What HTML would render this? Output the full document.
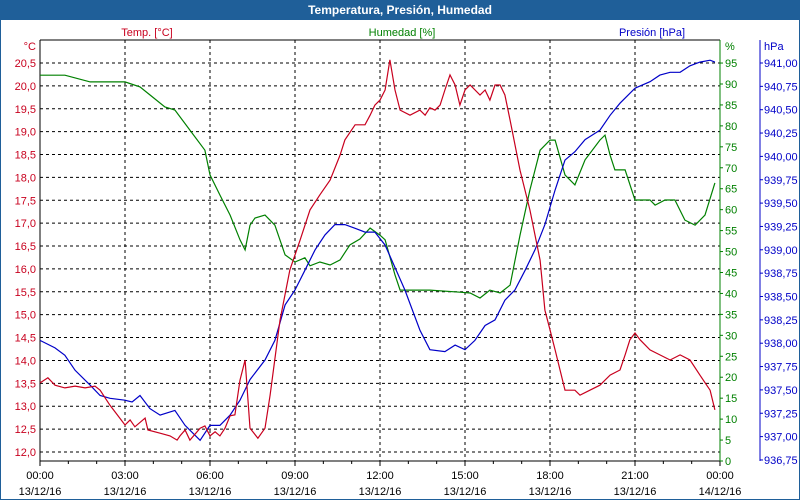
<!DOCTYPE html>
<html><head><meta charset="utf-8"><style>
html,body{margin:0;padding:0;background:#fff;}
#wrap{position:relative;width:800px;height:500px;overflow:hidden;font-family:"Liberation Sans","DejaVu Sans",sans-serif;}
svg text{font-family:"Liberation Sans","DejaVu Sans",sans-serif;font-size:11px;}
</style></head><body>
<div id="wrap">
<svg id="chart" width="800" height="500" xmlns="http://www.w3.org/2000/svg">
<rect x="0" y="0" width="800" height="500" fill="#fff" stroke="#1f5f99" stroke-width="2"/>
<rect x="0" y="0" width="800" height="20" fill="#1f5f99"/>
<text x="400" y="14" text-anchor="middle" fill="#fff" font-weight="bold" style="font-size:12px">Temperatura, Presión, Humedad</text>
<text x="147" y="36" text-anchor="middle" fill="#c8001e">Temp. [°C]</text>
<text x="402" y="36" text-anchor="middle" fill="#008000">Humedad [%]</text>
<text x="652" y="36" text-anchor="middle" fill="#0000c8">Presión [hPa]</text>
<text x="36" y="50" text-anchor="end" fill="#c8001e">°C</text>
<text x="725" y="50" fill="#008000">%</text>
<text x="764" y="50" fill="#0000c8">hPa</text>
<g id="grid"></g><g id="axes"></g><g id="series"></g>
</svg>
</div>
<script>
const xHourTicks=[0,3,6,9,12,15,18,21,24];
const xTimeLabels=["00:00","03:00","06:00","09:00","12:00","15:00","18:00","21:00","00:00"];
const xDateLabels=["13/12/16","13/12/16","13/12/16","13/12/16","13/12/16","13/12/16","13/12/16","13/12/16","14/12/16"];
const tempTicks=[12.0,12.5,13.0,13.5,14.0,14.5,15.0,15.5,16.0,16.5,17.0,17.5,18.0,18.5,19.0,19.5,20.0,20.5];
const humTicks=[0,5,10,15,20,25,30,35,40,45,50,55,60,65,70,75,80,85,90,95];
const presTicks=[936.75,937.0,937.25,937.5,937.75,938.0,938.25,938.5,938.75,939.0,939.25,939.5,939.75,940.0,940.25,940.5,940.75,941.0];

const tempHours=[0,0.28,0.53,0.88,1.24,1.59,1.94,2.12,2.47,3.0,3.18,3.35,3.71,3.81,4.24,4.59,4.84,4.94,5.12,5.29,5.65,5.82,6.0,6.18,6.35,6.53,6.71,6.88,7.06,7.24,7.41,7.69,7.94,8.12,8.47,8.82,9.18,9.53,9.88,10.24,10.59,10.76,11.12,11.47,11.65,11.82,12.0,12.18,12.35,12.53,12.71,13.06,13.41,13.59,13.76,13.94,14.12,14.29,14.47,14.65,14.82,15.0,15.18,15.53,15.71,15.88,16.06,16.24,16.41,16.59,16.94,17.29,17.65,17.82,18.0,18.18,18.53,18.88,19.06,19.41,19.76,20.12,20.47,20.65,20.82,21.0,21.18,21.53,21.88,22.24,22.59,22.94,23.29,23.65,23.82];
const tempValues=[13.51,13.62,13.46,13.40,13.44,13.40,13.44,13.35,13.02,12.59,12.70,12.55,12.74,12.48,12.41,12.35,12.26,12.35,12.48,12.26,12.52,12.57,12.35,12.44,12.35,12.52,12.79,12.81,13.57,14.01,12.52,12.30,12.52,13.24,14.88,15.98,16.63,17.29,17.62,17.94,18.49,18.82,19.15,19.15,19.36,19.58,19.69,19.91,20.57,19.91,19.47,19.36,19.47,19.36,19.52,19.47,19.58,19.91,20.24,20.02,19.58,19.91,20.02,19.80,19.91,19.69,20.02,20.02,19.80,19.25,18.16,17.29,16.19,15.10,14.67,14.23,13.35,13.35,13.24,13.35,13.46,13.68,13.79,14.12,14.45,14.60,14.45,14.23,14.12,14.01,14.12,14.01,13.68,13.35,12.92];

const humHours=[0,0.88,1.77,3.0,3.53,3.88,4.41,4.76,5.29,5.82,6.0,6.35,6.71,7.06,7.24,7.41,7.59,7.94,8.29,8.65,9.0,9.35,9.53,9.88,10.24,10.59,10.94,11.29,11.65,12.0,12.18,12.53,12.71,13.41,13.76,14.82,15.18,15.53,15.88,16.24,16.59,16.94,17.29,17.65,18.0,18.18,18.53,18.88,19.24,19.76,19.94,20.12,20.29,20.65,21.0,21.53,21.71,22.06,22.41,22.76,23.12,23.47,23.82];
const humValues=[92.1,92.1,90.5,90.5,89.3,87.4,84.5,83.8,79.0,74.2,68.3,63.5,58.7,52.8,50.4,56.3,58.0,58.7,56.3,49.2,47.5,48.5,46.6,47.5,46.8,48.0,51.6,53.0,55.6,53.9,52.8,44.4,40.8,40.8,40.8,40.3,40.1,38.9,40.8,40.1,42.0,53.9,64.7,74.2,76.6,76.6,68.3,65.9,71.9,76.6,77.8,73.0,69.5,69.5,62.3,62.3,61.1,62.3,62.3,57.5,56.3,58.7,66.4];

const presHours=[0,0.53,0.88,1.24,1.77,2.12,2.47,3.0,3.25,3.53,3.88,4.24,4.76,5.12,5.65,6.0,6.35,6.71,7.06,7.41,7.94,8.29,8.65,9.0,9.35,9.71,10.06,10.41,10.76,11.12,11.47,11.82,12.18,12.53,12.88,13.41,13.76,14.29,14.65,15.0,15.35,15.71,16.06,16.41,16.76,17.12,17.47,17.82,18.18,18.53,18.88,19.24,19.76,20.12,20.47,21.0,21.53,21.88,22.24,22.59,22.94,23.29,23.65,23.82];
const presValues=[938.03,937.95,937.87,937.71,937.55,937.44,937.41,937.39,937.37,937.44,937.30,937.23,937.28,937.12,936.96,937.12,937.12,937.23,937.39,937.61,937.82,938.03,938.41,938.57,938.78,939.0,939.16,939.27,939.27,939.23,939.19,939.19,939.05,938.81,938.57,938.14,937.93,937.91,937.98,937.93,938.03,938.19,938.25,938.46,938.57,938.78,939.0,939.27,939.64,939.96,940.05,940.18,940.28,940.44,940.57,940.73,940.80,940.87,940.90,940.90,940.97,941.01,941.03,941.01];

const L=40,R=720,T=40,B=461;
const NS="http://www.w3.org/2000/svg";
const xOf=h=>L+(R-L)*h/24;
const yTemp=v=>63+(20.5-v)*45.76;
const yHum=v=>461-v*4.189;
const yPres=v=>63+(941-v)*93.4;
const fmt=(v,d)=>v.toFixed(d).replace('.',',');
function mk(tag,attrs,parent){const e=document.createElementNS(NS,tag);for(const k in attrs)e.setAttribute(k,attrs[k]);parent.appendChild(e);return e;}
const grid=document.getElementById('grid'),axes=document.getElementById('axes'),series=document.getElementById('series');

tempTicks.forEach(v=>{
  const y=yTemp(v);
  const g=mk('line',{x1:L,x2:R,y1:y,y2:y,stroke:'#000','stroke-dasharray':'3,3'},grid);
  
  
  const t=mk('text',{x:36,y:y+4,'text-anchor':'end',fill:'#c8001e'},axes);
  t.textContent=fmt(v,1);
  
  
});
xHourTicks.forEach((h,i)=>{
  const x=xOf(h);
  if(i>0&&i<xHourTicks.length-1){
    const g=mk('line',{x1:x,x2:x,y1:T,y2:B,stroke:'#000','stroke-dasharray':'3,3'},grid);
    
    
  }
  const t1=mk('text',{x:x,y:479,'text-anchor':'middle',fill:'#000'},axes);
  t1.textContent=xTimeLabels[i];
  
  
  const t2=mk('text',{x:x,y:495,'text-anchor':'middle',fill:'#000'},axes);
  t2.textContent=xDateLabels[i];
  
  
});
for(let h=0;h<=24;h++){
  const x=xOf(h);
  const tk=mk('line',{x1:x,x2:x,y1:B,y2:B+(h%3===0?5:3),stroke:'#000'},axes);
  
  
}
humTicks.forEach(v=>{
  const y=yHum(v);
  const tk=mk('line',{x1:R,x2:R+3,y1:y,y2:y,stroke:'#008000'},axes);
  
  
  const t=mk('text',{x:725,y:y+4,fill:'#008000'},axes);
  t.textContent=String(v);
  
  
});
presTicks.forEach(v=>{
  const y=yPres(v);
  const tk=mk('line',{x1:760,x2:763,y1:y,y2:y,stroke:'#0000c8'},axes);
  
  
  const t=mk('text',{x:764,y:y+4,fill:'#0000c8'},axes);
  t.textContent=fmt(v,2);
  
  
});
const a1=mk('path',{d:`M${L},${T}H${R}M${L},${T}V${B}H${R}`,stroke:'#000',fill:'none'},axes);


const a2=mk('line',{x1:R,x2:R,y1:T,y2:B,stroke:'#008000'},axes);


const a3=mk('line',{x1:760,x2:760,y1:T,y2:B,stroke:'#0000c8'},axes);



function line(hours,vals,yf,color,name){
  const pts=hours.map((h,i)=>xOf(h).toFixed(1)+','+yf(vals[i]).toFixed(1)).join(' ');
  const p=mk('polyline',{points:pts,fill:'none',stroke:color,'stroke-width':1.2},series);
  
  
}
line(humHours,humValues,yHum,'#008000','humidity-line');
line(presHours,presValues,yPres,'#0000c8','pressure-line');
line(tempHours,tempValues,yTemp,'#c8001e','temperature-line');
</script>
</body></html>
